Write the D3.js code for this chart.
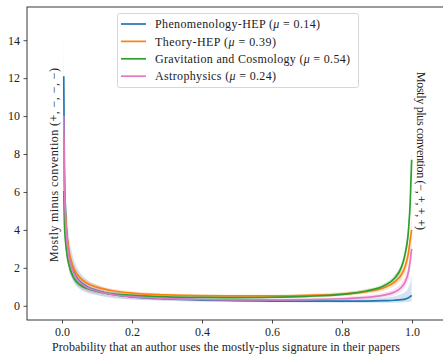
<!DOCTYPE html>
<html>
<head>
<meta charset="utf-8">
<script src="https://cdn.jsdelivr.net/npm/d3@7"></script>
<style>
  body { margin: 0; background: #fff; }
  text { font-family: "Liberation Serif", "DejaVu Serif", serif; fill: #222; }
</style>
</head>
<body>
<div id="chart"></div>
<script>
// probability grid where densities were read
const probs = [0.005, 0.007, 0.01, 0.015, 0.02, 0.03, 0.04, 0.05, 0.07, 0.1, 0.15, 0.2, 0.3, 0.4, 0.5, 0.6, 0.7, 0.8, 0.87, 0.92, 0.95, 0.97, 0.98, 0.99, 0.995, 0.999];

const phenoMean = [12.1, 7.0, 5.0, 3.5, 2.7, 1.95, 1.55, 1.3, 1.02, 0.8, 0.58, 0.47, 0.36, 0.3, 0.27, 0.25, 0.24, 0.24, 0.25, 0.27, 0.29, 0.32, 0.35, 0.42, 0.48, 0.55];
const phenoHi   = [15.0, 9.0, 6.5, 4.7, 3.7, 2.7, 2.15, 1.8, 1.4, 1.1, 0.8, 0.64, 0.48, 0.4, 0.36, 0.34, 0.33, 0.34, 0.37, 0.42, 0.5, 0.62, 0.72, 0.95, 1.2, 1.6];
const phenoLo   = [9.5, 5.3, 3.7, 2.5, 1.9, 1.35, 1.05, 0.88, 0.7, 0.56, 0.4, 0.33, 0.26, 0.22, 0.2, 0.18, 0.17, 0.16, 0.16, 0.16, 0.16, 0.17, 0.18, 0.2, 0.22, 0.25];

const theoryMean = [8.8, 6.2, 4.8, 3.6, 2.9, 2.15, 1.75, 1.5, 1.2, 0.98, 0.78, 0.67, 0.57, 0.53, 0.52, 0.52, 0.55, 0.62, 0.75, 0.95, 1.25, 1.65, 2.05, 2.8, 3.5, 4.0];
const theoryHi   = [9.8, 6.9, 5.4, 4.0, 3.25, 2.4, 1.95, 1.68, 1.35, 1.1, 0.88, 0.76, 0.65, 0.6, 0.59, 0.6, 0.63, 0.72, 0.87, 1.1, 1.45, 1.9, 2.35, 3.2, 4.0, 4.7];
const theoryLo   = [7.8, 5.5, 4.2, 3.2, 2.55, 1.9, 1.55, 1.32, 1.06, 0.86, 0.68, 0.58, 0.5, 0.46, 0.45, 0.45, 0.47, 0.53, 0.64, 0.81, 1.06, 1.4, 1.75, 2.4, 3.0, 3.4];

const gravMean = [6.05, 4.3, 3.4, 2.6, 2.15, 1.6, 1.3, 1.12, 0.92, 0.76, 0.62, 0.55, 0.47, 0.44, 0.43, 0.45, 0.5, 0.6, 0.78, 1.05, 1.45, 2.05, 2.7, 4.0, 5.5, 7.7];
const gravHi   = [6.7, 4.8, 3.8, 2.9, 2.4, 1.8, 1.46, 1.26, 1.04, 0.86, 0.7, 0.62, 0.53, 0.5, 0.49, 0.51, 0.57, 0.68, 0.88, 1.18, 1.62, 2.28, 3.0, 4.4, 6.0, 8.4];
const gravLo   = [5.4, 3.8, 3.0, 2.3, 1.9, 1.42, 1.15, 0.99, 0.81, 0.67, 0.55, 0.48, 0.41, 0.38, 0.37, 0.39, 0.44, 0.53, 0.69, 0.93, 1.29, 1.83, 2.42, 3.6, 5.0, 7.0];

const astroMean = [10.0, 6.3, 4.6, 3.3, 2.6, 1.9, 1.5, 1.25, 0.98, 0.78, 0.58, 0.48, 0.38, 0.33, 0.31, 0.31, 0.32, 0.37, 0.44, 0.56, 0.72, 0.98, 1.25, 1.8, 2.4, 3.0];
const astroHi   = [11.5, 7.4, 5.4, 3.9, 3.1, 2.25, 1.8, 1.5, 1.18, 0.94, 0.7, 0.58, 0.46, 0.4, 0.38, 0.38, 0.4, 0.46, 0.55, 0.7, 0.9, 1.22, 1.55, 2.2, 2.9, 3.6];
const astroLo   = [8.0, 5.0, 3.6, 2.6, 2.0, 1.45, 1.15, 0.95, 0.74, 0.58, 0.43, 0.35, 0.28, 0.24, 0.23, 0.23, 0.24, 0.28, 0.34, 0.43, 0.55, 0.75, 0.97, 1.4, 1.9, 2.4];

const seriesNames = ['Phenomenology-HEP', 'Theory-HEP', 'Gravitation and Cosmology', 'Astrophysics'];
const seriesMu = ['0.14', '0.39', '0.54', '0.24'];
const colors = ['#1f77b4', '#ff7f0e', '#2ca02c', '#e377c2'];
const xTicks = [0.0, 0.2, 0.4, 0.6, 0.8, 1.0];
const yTicks = [0, 2, 4, 6, 8, 10, 12, 14];

const series = [
  { mean: phenoMean, hi: phenoHi, lo: phenoLo },
  { mean: theoryMean, hi: theoryHi, lo: theoryLo },
  { mean: gravMean, hi: gravHi, lo: gravLo },
  { mean: astroMean, hi: astroHi, lo: astroLo }
];

const W = 443, H = 354;
const mLeft = 27, mTop = 7, mRight = 447, mBottom = 320;

const svg = d3.select('#chart').append('svg')
  .attr('width', W)
  .attr('height', H);

const x = d3.scaleLinear().domain([-0.1, 1.1]).range([mLeft, mRight]);
const y = d3.scaleLinear().domain([-0.75, 15.75]).range([mBottom, mTop]);

svg.append('clipPath').attr('id', 'plotclip')
  .append('rect').attr('x', mLeft).attr('y', mTop).attr('width', mRight - mLeft).attr('height', mBottom - mTop);

const plot = svg.append('g').attr('clip-path', 'url(#plotclip)');

const area = d3.area()
  .x((d, i) => x(probs[i]))
  .y0(d => y(d[0]))
  .y1(d => y(d[1]))
  .curve(d3.curveMonotoneX);

const line = d3.line()
  .x((d, i) => x(probs[i]))
  .y(d => y(d))
  .curve(d3.curveMonotoneX);

// shaded bands first, then lines
series.forEach((s, k) => {
  plot.append('path')
    .datum(s.lo.map((v, i) => [v, s.hi[i]]))
    .attr('d', area)
    .attr('fill', colors[k])
    .attr('fill-opacity', 0.2)
    .attr('stroke', 'none');
});

series.forEach((s, k) => {
  plot.append('path')
    .datum(s.mean)
    .attr('d', line)
    .attr('fill', 'none')
    .attr('stroke', colors[k])
    .attr('stroke-width', 1.7);
});

// axes
const xAxis = svg.append('g')
  .attr('transform', `translate(0, ${mBottom})`)
  .call(d3.axisBottom(x).tickValues(xTicks).tickFormat(d3.format('.1f')).tickSizeOuter(0).tickSize(3.5).tickPadding(4));

const yAxis = svg.append('g')
  .attr('transform', `translate(${mLeft}, 0)`)
  .call(d3.axisLeft(y).tickValues(yTicks).tickFormat(d3.format('d')).tickSizeOuter(0).tickSize(3.5).tickPadding(3.5));

[xAxis, yAxis].forEach(a => {
  a.select('.domain').remove();
  a.selectAll('.tick line').attr('stroke', '#222').attr('stroke-width', 0.8);
  a.selectAll('.tick text').style('font-size', '12px').style('font-family', '"Liberation Serif", serif').attr('fill', '#222');
});

// frame
svg.append('rect')
  .attr('x', mLeft).attr('y', mTop)
  .attr('width', mRight - mLeft).attr('height', mBottom - mTop)
  .attr('fill', 'none')
  .attr('stroke', '#222')
  .attr('stroke-width', 0.9);

// x label
svg.append('text')
  .attr('x', 226)
  .attr('y', 351)
  .attr('text-anchor', 'middle')
  .attr('textLength', 348)
  .attr('lengthAdjust', 'spacing')
  .style('font-size', '12px')
  .text('Probability that an author uses the mostly-plus signature in their papers');

// side labels inside plot
svg.append('text')
  .attr('transform', `translate(54, 165) rotate(-90)`)
  .attr('text-anchor', 'middle')
  .attr('dy', '0.35em')
  .attr('textLength', 194)
  .attr('lengthAdjust', 'spacing')
  .style('font-size', '12px')
  .text('Mostly minus convention (+, \u2212, \u2212, \u2212)');

svg.append('text')
  .attr('transform', `translate(421, 151) rotate(90)`)
  .attr('text-anchor', 'middle')
  .attr('dy', '0.35em')
  .attr('textLength', 158)
  .attr('lengthAdjust', 'spacing')
  .style('font-size', '12px')
  .text('Mostly plus convention (\u2212, +, +, +)');

// legend
const legendWidths = [165, 121, 195, 121];
const lg = svg.append('g');
lg.append('rect')
  .attr('x', 117.5).attr('y', 13.5)
  .attr('width', 241).attr('height', 74)
  .attr('rx', 2)
  .attr('fill', 'rgba(255,255,255,0.8)')
  .attr('stroke', '#ccc')
  .attr('stroke-width', 0.8);

seriesNames.forEach((name, i) => {
  const ly = 24 + i * 17.4;
  lg.append('line')
    .attr('x1', 121).attr('x2', 146)
    .attr('y1', ly).attr('y2', ly)
    .attr('stroke', colors[i])
    .attr('stroke-width', 1.7);
  const t = lg.append('text')
    .attr('x', 155).attr('y', ly)
    .attr('dy', '0.35em')
    .attr('textLength', legendWidths[i])
    .attr('lengthAdjust', 'spacing')
    .style('font-size', '12px');
  t.append('tspan').text(name + ' (');
  t.append('tspan').style('font-style', 'italic').text('\u03bc');
  t.append('tspan').text(' = ' + seriesMu[i] + ')');
});
</script>
</body>
</html>
